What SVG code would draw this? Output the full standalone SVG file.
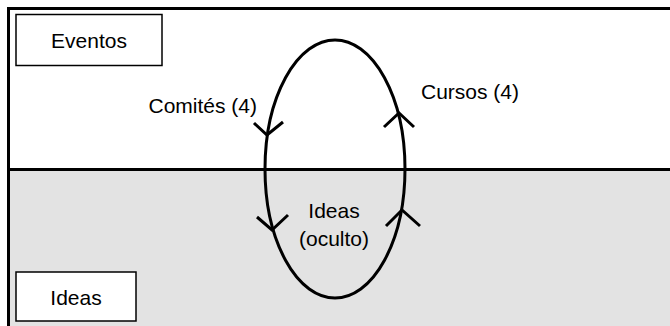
<svg xmlns="http://www.w3.org/2000/svg" width="670" height="326" viewBox="0 0 670 326">
<style>
.txt{font-family:"Liberation Sans",Arial,sans-serif;font-size:21px;fill:#000}
.box{fill:#fff;stroke:#000;stroke-width:1.5}
.line{fill:none;stroke:#000;stroke-width:3}
.arrow{fill:none;stroke:#000;stroke-width:3;stroke-linejoin:miter}
</style>
<g id="regions">
<rect x="0" y="0" width="670" height="326" fill="#fff"/>
<rect x="8.5" y="170" width="670" height="170" fill="#e3e3e3"/>
<path class="line" d="M8.5,326 V8.5 H670"/>
<path class="line" d="M8.5,169.5 H670"/>
</g>
<g id="node-eventos">
<rect class="box" x="16" y="14.5" width="146" height="51"/>
<text class="txt" x="89" y="48" text-anchor="middle">Eventos</text>
</g>
<g id="node-ideas">
<rect class="box" x="16" y="272" width="120" height="49"/>
<text class="txt" x="76" y="305" text-anchor="middle">Ideas</text>
</g>
<g id="node-ideas-oculto">
<text class="txt" x="334" y="218" text-anchor="middle">Ideas</text>
<text class="txt" x="334" y="246" text-anchor="middle">(oculto)</text>
</g>
<g id="connectors">
<ellipse class="line" cx="335" cy="169" rx="70" ry="129"/>
<polyline class="arrow" points="254,123 267,135 283,122"/>
<polyline class="arrow" points="257,217 272,230 288,215"/>
<polyline class="arrow" points="384,127 399,113 414,127"/>
<polyline class="arrow" points="386,226 402,210 420,226"/>
<text class="txt" x="257" y="113" text-anchor="end">Comités (4)</text>
<text class="txt" x="421" y="99">Cursos (4)</text>
</g>
</svg>
